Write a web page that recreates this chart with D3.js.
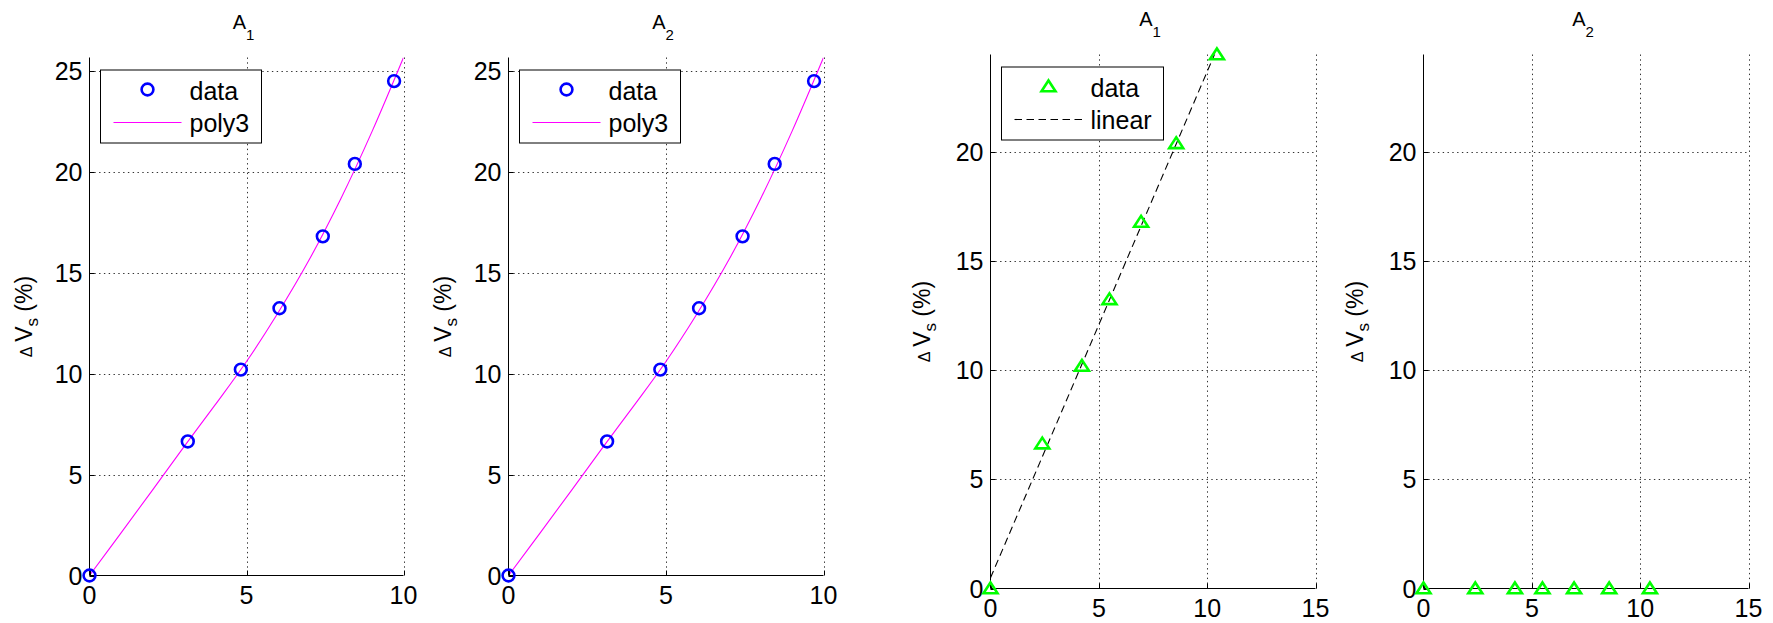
<!DOCTYPE html>
<html>
<head>
<meta charset="utf-8">
<script src="https://cdn.jsdelivr.net/npm/d3@7"></script>
<style>
  html, body { margin: 0; padding: 0; background: #fff; }
  svg { display: block; font-family: "Liberation Sans", Arial, Helvetica, sans-serif; }
</style>
</head>
<body>
<svg id="fig" width="1773" height="623"></svg>
<script>
// ---- measurements: strain (x) against change of shear-wave velocity dVs (%) ----
const strainFit = [0, 3.13, 4.82, 6.05, 7.43, 8.45, 9.70];
const dVsFit    = [0, 6.64, 10.2, 13.24, 16.8, 20.39, 24.49];

// cubic fit curve, sampled along x
const poly3X = [0, 1, 2, 3, 4, 5, 6, 7, 8, 9, 10];
const poly3Y = [0, 2.1, 4.22, 6.36, 8.45, 10.6, 13.0, 15.65, 18.65, 22.0, 25.66];

const strainLin = [0, 2.39, 4.22, 5.49, 6.95, 8.57, 10.45];
const dVsLinA1  = [0, 6.64, 10.2, 13.25, 16.8, 20.4, 24.47];
const dVsLinA2  = [0, 0, 0, 0, 0, 0, 0];

// linear fit end points
const linearX = [0, 10.45];
const linearY = [0.49, 24.73];

const xTicksFit = [0, 5, 10];
const yTicksFit = [0, 5, 10, 15, 20, 25];
const xTicksLin = [0, 5, 10, 15];
const yTicksLin = [0, 5, 10, 15, 20];

const titleSubs = ["1", "2", "1", "2"];

// ---- panel layout ----
const panels = [
  { box: { l: 89.5,  r: 403.5,  t: 57.5, b: 575.5 }, xDom: [0, 10], yDom: [0, 25.66],
    xTicks: xTicksFit, yTicks: yTicksFit, sub: titleSubs[0], labelOff: 58,
    pts: { x: strainFit, y: dVsFit, shape: "circle", color: "#0000ff" },
    fit: { x: poly3X, y: poly3Y, color: "#ff00ff", dash: null, name: "poly3" } },
  { box: { l: 508.5, r: 823.5,  t: 57.5, b: 575.5 }, xDom: [0, 10], yDom: [0, 25.66],
    xTicks: xTicksFit, yTicks: yTicksFit, sub: titleSubs[1], labelOff: 58,
    pts: { x: strainFit, y: dVsFit, shape: "circle", color: "#0000ff" },
    fit: { x: poly3X, y: poly3Y, color: "#ff00ff", dash: null, name: "poly3" } },
  { box: { l: 990.5, r: 1315.5, t: 54.5, b: 588.5 }, xDom: [0, 15], yDom: [0, d3.max(dVsLinA1)],
    xTicks: xTicksLin, yTicks: yTicksLin, sub: titleSubs[2], labelOff: 61,
    pts: { x: strainLin, y: dVsLinA1, shape: "triangle", color: "#00ff00" },
    fit: { x: linearX, y: linearY, color: "#000000", dash: "7.5,4.5", name: "linear" } },
  { box: { l: 1423.5, r: 1748.5, t: 54.5, b: 588.5 }, xDom: [0, 15], yDom: [0, d3.max(dVsLinA1)],
    xTicks: xTicksLin, yTicks: yTicksLin, sub: titleSubs[3], labelOff: 61,
    pts: { x: strainLin, y: dVsLinA2, shape: "triangle", color: "#00ff00" },
    fit: null }
];

const svg = d3.select("#fig");
const TICK_FONT = 25, LEGEND_FONT = 25, TITLE_FONT = 20, LABEL_FONT = 23;

const trianglePath = "M0,-6L7,4.8L-7,4.8Z";

function drawMarker(g, shape, color, x, y) {
  if (shape === "circle") {
    g.append("circle").attr("cx", x).attr("cy", y).attr("r", 5.9)
      .attr("fill", "none").attr("stroke", color).attr("stroke-width", 2.6);
  } else {
    g.append("path").attr("d", trianglePath)
      .attr("transform", `translate(${x},${y})`)
      .attr("fill", "none").attr("stroke", color).attr("stroke-width", 2.6)
      .attr("stroke-linejoin", "miter");
  }
}

panels.forEach((p, i) => {
  const { l, r, t, b } = p.box;
  const x = d3.scaleLinear().domain(p.xDom).range([l, r]);
  const y = d3.scaleLinear().domain(p.yDom).range([b, t]);
  const g = svg.append("g").attr("class", "panel");

  const clipId = "clip" + i;
  svg.append("clipPath").attr("id", clipId)
    .append("rect").attr("x", l).attr("y", t).attr("width", r - l).attr("height", b - t);

  // dotted grid
  const grid = g.append("g").attr("stroke", "#333").attr("stroke-width", 1)
    .attr("stroke-dasharray", "1.4,3.4").attr("fill", "none");
  p.xTicks.filter(v => v !== p.xDom[0]).forEach(v => {
    grid.append("line").attr("x1", Math.round(x(v)) + 0.5).attr("x2", Math.round(x(v)) + 0.5)
      .attr("y1", t).attr("y2", b);
  });
  p.yTicks.filter(v => v !== p.yDom[0]).forEach(v => {
    grid.append("line").attr("y1", Math.round(y(v)) + 0.5).attr("y2", Math.round(y(v)) + 0.5)
      .attr("x1", l).attr("x2", r);
  });

  // fitted curve
  if (p.fit) {
    const pts = p.fit.x.map((v, k) => [v, p.fit.y[k]]);
    const line = d3.line().x(d => x(d[0])).y(d => y(d[1]))
      .curve(pts.length > 2 ? d3.curveCatmullRom.alpha(0.5) : d3.curveLinear);
    g.append("path").datum(pts).attr("d", line)
      .attr("clip-path", `url(#${clipId})`)
      .attr("fill", "none").attr("stroke", p.fit.color).attr("stroke-width", 1.1)
      .attr("stroke-dasharray", p.fit.dash);
  }

  // axes: left and bottom only
  const axG = g.append("g").attr("stroke", "#000").attr("stroke-width", 1).attr("fill", "none");
  axG.append("line").attr("x1", l).attr("x2", l).attr("y1", t).attr("y2", b);
  axG.append("line").attr("x1", l).attr("x2", r).attr("y1", b).attr("y2", b);
  p.xTicks.forEach(v => {
    const xv = Math.round(x(v)) + 0.5;
    axG.append("line").attr("x1", xv).attr("x2", xv).attr("y1", b).attr("y2", b - 5);
  });
  p.yTicks.forEach(v => {
    const yv = Math.round(y(v)) + 0.5;
    axG.append("line").attr("x1", l).attr("x2", l + 5).attr("y1", yv).attr("y2", yv);
  });

  // tick labels
  const tl = g.append("g").attr("font-size", TICK_FONT).attr("fill", "#000");
  p.xTicks.forEach(v => {
    tl.append("text").attr("x", x(v)).attr("y", b + 28).attr("text-anchor", "middle")
      .text(d3.format("d")(v));
  });
  p.yTicks.forEach(v => {
    tl.append("text").attr("x", l - 7).attr("y", y(v) + 9).attr("text-anchor", "end")
      .text(d3.format("d")(v));
  });

  // title  A_n
  const title = g.append("text").attr("x", (l + r) / 2 - 3).attr("y", t - 29)
    .attr("text-anchor", "middle").attr("font-size", TITLE_FONT);
  title.append("tspan").text("A");
  title.append("tspan").attr("font-size", 15).attr("dy", 11).text(p.sub);

  // y label  ΔV_s (%)
  const yl = g.append("text")
    .attr("transform", `translate(${l - p.labelOff},${(t + b) / 2}) rotate(-90)`)
    .attr("text-anchor", "middle").attr("font-size", LABEL_FONT);
  yl.append("tspan").attr("font-size", 16).text("\u0394");
  yl.append("tspan").text("\u2009V");
  yl.append("tspan").attr("font-size", 17).attr("dy", 6).text("s");
  yl.append("tspan").attr("dy", -6).text(" (%)");

  // data markers
  const mk = g.append("g");
  p.pts.x.forEach((v, k) => drawMarker(mk, p.pts.shape, p.pts.color, x(v), y(p.pts.y[k])));

  // legend (north-west)
  if (p.fit) {
    const lx = l + 11, ly = t + 12.5;
    const lg = g.append("g").attr("transform", `translate(${lx},${ly})`);
    const box = lg.append("rect").attr("x", 0).attr("y", 0).attr("height", 73)
      .attr("fill", "#fff").attr("stroke", "#000").attr("stroke-width", 1);
    drawMarker(lg, p.pts.shape, p.pts.color, 47, 19.5);
    lg.append("line").attr("x1", 13).attr("x2", 81).attr("y1", 52.5).attr("y2", 52.5)
      .attr("stroke", p.fit.color).attr("stroke-width", 1.1).attr("stroke-dasharray", p.fit.dash);
    const t1 = lg.append("text").attr("x", 89).attr("y", 29.5).attr("font-size", LEGEND_FONT).text("data");
    const t2 = lg.append("text").attr("x", 89).attr("y", 62).attr("font-size", LEGEND_FONT).text(p.fit.name);
    const w = Math.max(t1.node().getComputedTextLength(), t2.node().getComputedTextLength());
    box.attr("width", Math.round(89 + w + 12));
  }
});
</script>
</body>
</html>
